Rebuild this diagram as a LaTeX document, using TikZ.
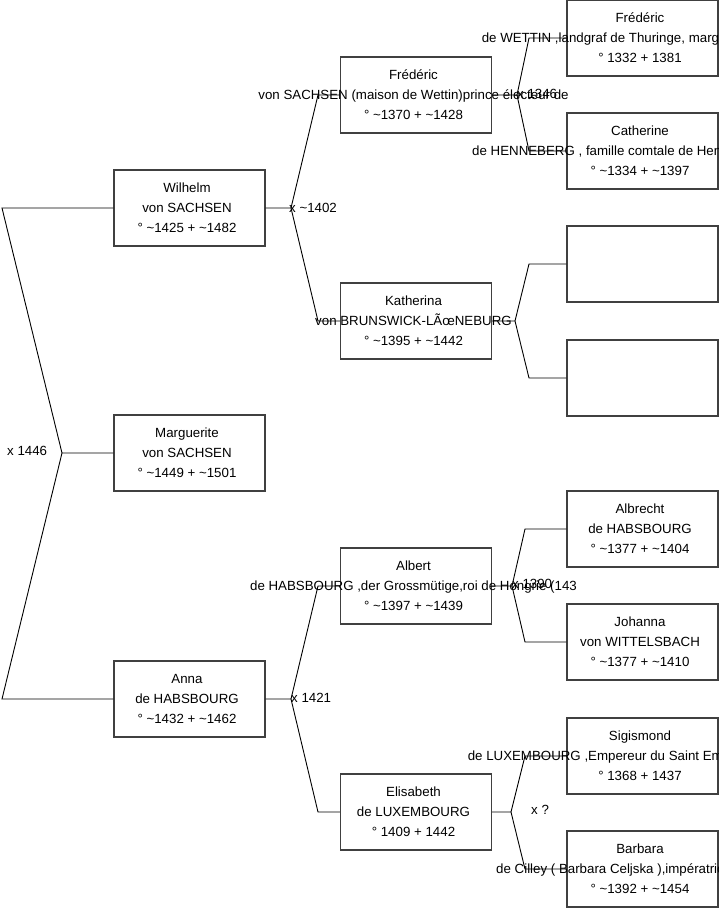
\documentclass[tikz,border=0pt]{standalone}
\usepackage{fontspec}
\setmainfont{Liberation Sans}
\newcommand{\pers}[3]{\makebox[0pt]{\begin{tabular}{@{}c@{}}#1\\#2\\#3\end{tabular}\hspace{5pt}}}
\begin{document}
\begin{tikzpicture}[
    x=1pt, y=-1pt,
    person/.style={draw=black!75, line width=1.2pt, minimum width=151pt, minimum height=76pt, inner sep=0pt, font=\fontsize{13.3}{20}\selectfont},
    wed/.style={font=\fontsize{13.3}{16}\selectfont, inner sep=0pt},
    link/.style={line width=0.9pt},
]
\useasboundingbox (0,0) rectangle (719,908);

% Generation 0 and 1
\node[person] (wil) at (189.5, 208) {\pers{Wilhelm}{von SACHSEN}{° \char`\~1425 + \char`\~1482}};
\node[person] (marg) at (189.5, 453) {\pers{Marguerite}{von SACHSEN}{° \char`\~1449 + \char`\~1501}};
\node[person] (anna) at (189.5, 699) {\pers{Anna}{de HABSBOURG}{° \char`\~1432 + \char`\~1462}};

% Generation 2
\node[person] (fred) at (416, 95) {\pers{Frédéric}{von SACHSEN (maison de Wettin)prince électeur de }{° \char`\~1370 + \char`\~1428}};
\node[person] (kath) at (416, 321) {\pers{Katherina}{von BRUNSWICK-LÃœNEBURG}{° \char`\~1395 + \char`\~1442}};
\node[person] (albert) at (416, 586) {\pers{Albert}{de HABSBOURG ,der Grossmütige,roi de Hongrie (143}{° \char`\~1397 + \char`\~1439}};
\node[person] (elis) at (416, 812) {\pers{Elisabeth}{de LUXEMBOURG}{° 1409 + 1442}};

% Generation 3
\node[person] (fredw) at (642.5, 38) {\pers{Frédéric}{de WETTIN ,landgraf de Thuringe, margrave de Misni}{° 1332 + 1381}};
\node[person] (cath) at (642.5, 151) {\pers{Catherine}{de HENNEBERG , famille comtale de Henneberg-Schleu}{° \char`\~1334 + \char`\~1397}};
\node[person] (emptya) at (642.5, 264) {};
\node[person] (emptyb) at (642.5, 378) {};
\node[person] (albr) at (642.5, 529) {\pers{Albrecht}{de HABSBOURG}{° \char`\~1377 + \char`\~1404}};
\node[person] (joh) at (642.5, 642) {\pers{Johanna}{von WITTELSBACH}{° \char`\~1377 + \char`\~1410}};
\node[person] (sig) at (642.5, 756) {\pers{Sigismond}{de LUXEMBOURG ,Empereur du Saint Empire romain ger}{° 1368 + 1437}};
\node[person] (barb) at (642.5, 869) {\pers{Barbara}{de Cilley ( Barbara Celjska ),impératrice du Saint}{° \char`\~1392 + \char`\~1454}};

% Forks and kinks
\coordinate (f0) at (62, 453);
\coordinate (k0a) at (2, 208);
\coordinate (k0b) at (2, 699);
\coordinate (f1) at (291, 208);
\coordinate (k1a) at (318, 95);
\coordinate (k1b) at (318, 321);
\coordinate (f2) at (291, 699);
\coordinate (k2a) at (318, 586);
\coordinate (k2b) at (318, 812);
\coordinate (f3) at (517, 95);
\coordinate (k3a) at (529, 38);
\coordinate (k3b) at (529, 151);
\coordinate (f4) at (515, 321);
\coordinate (k4a) at (529, 264);
\coordinate (k4b) at (529, 378);
\coordinate (f5) at (512, 586);
\coordinate (k5a) at (525, 529);
\coordinate (k5b) at (525, 642);
\coordinate (f6) at (511, 812);
\coordinate (k6a) at (525, 756);
\coordinate (k6b) at (525, 869);

% Connectors
\draw[link] (marg.west) -- (f0) -- (k0a) -- (wil.west);
\draw[link] (f0) -- (k0b) -- (anna.west);
\draw[link] (wil.east) -- (f1) -- (k1a) -- (fred.west);
\draw[link] (f1) -- (k1b) -- (kath.west);
\draw[link] (anna.east) -- (f2) -- (k2a) -- (albert.west);
\draw[link] (f2) -- (k2b) -- (elis.west);
\draw[link] (fred.east) -- (f3) -- (k3a) -- (fredw.west);
\draw[link] (f3) -- (k3b) -- (cath.west);
\draw[link] (kath.east) -- (f4) -- (k4a) -- (emptya.west);
\draw[link] (f4) -- (k4b) -- (emptyb.west);
\draw[link] (albert.east) -- (f5) -- (k5a) -- (albr.west);
\draw[link] (f5) -- (k5b) -- (joh.west);
\draw[link] (elis.east) -- (f6) -- (k6a) -- (sig.west);
\draw[link] (f6) -- (k6b) -- (barb.west);

% Marriage labels
\node[wed, anchor=west] (w0) at (7, 451) {x 1446};
\node[wed, anchor=west] (w1) at (289, 208) {x \char`\~1402};
\node[wed, anchor=west] (w2) at (291, 698) {x 1421};
\node[wed, anchor=west] (w3) at (517, 94) {x 1346};
\node[wed, anchor=west] (w5) at (512, 584) {x 1390};
\node[wed, anchor=west] (w6) at (531, 810) {x ?};
\end{tikzpicture}
\end{document}
